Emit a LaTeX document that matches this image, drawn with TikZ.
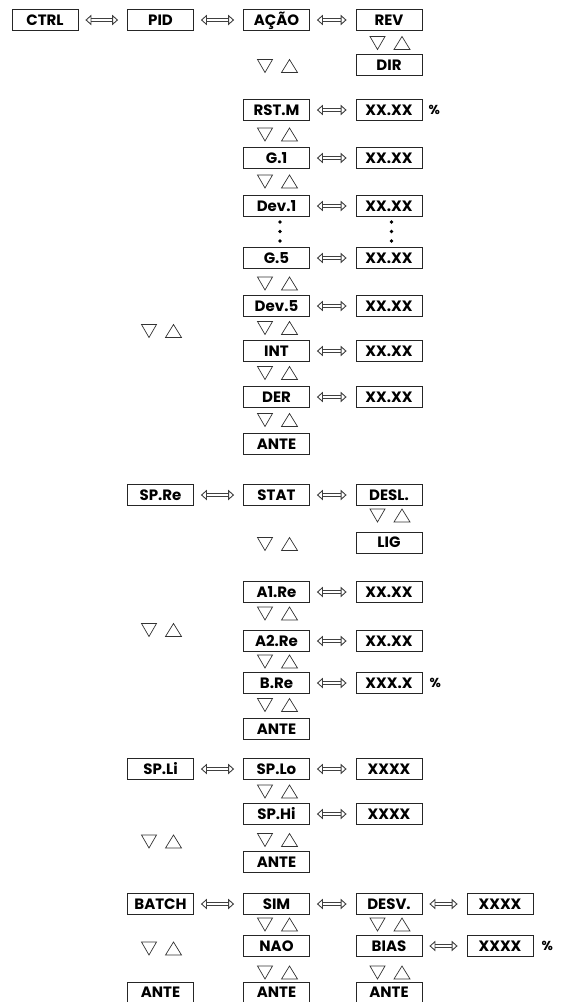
\documentclass[tikz,border=0pt]{standalone}
\usepackage{fontspec}
\setmainfont{Poppins}
\usetikzlibrary{arrows.meta}
\begin{document}
\begin{tikzpicture}[x=1pt,y=-1pt,
  box/.style={draw=black!85, line width=0.8pt, minimum width=66pt, minimum height=21pt,
    inner sep=0pt, text height=10pt, text depth=0pt,
    font=\fontsize{15}{15}\selectfont\bfseries},
  pct/.style={anchor=west, inner sep=0pt, font=\fontsize{13}{13}\selectfont\bfseries},
  lr/.style={double=white, double distance=2.6pt, line width=0.9pt, draw=black!75,
    {Triangle[open,length=6pt,width=10.5pt]}-{Triangle[open,length=6pt,width=10.5pt]},
    shorten <=7pt, shorten >=9pt},
  tri/.style={draw=black!80, line width=0.7pt, line join=miter},
  updown/.pic={\draw[tri] (-19,-6.5) -- (-4,-6.5) -- (-11.5,6.5) -- cycle;
               \draw[tri] (5,6.5) -- (21,6.5) -- (13,-6.5) -- cycle;},
  dot/.style={circle, fill=black, inner sep=0pt, minimum size=3.6pt}]
\useasboundingbox (0,0) rectangle (560,1002);
\clip (0,0) rectangle (560,1002);
\def\ca{45}\def\cb{160.5}\def\cc{276.5}\def\cd{389}\def\ce{500}
% ---- CTRL block
\node[box] (ctrl) at (\ca,20) {CTRL};
\node[box] (pid)  at (\cb,20) {PID};
\node[box] (acao) at (\cc,20) {AÇÃO};
\node[box] (rev)  at (\cd,20) {REV};
\node[box] (dir)  at (\cd,65) {DIR};
\draw[lr] (ctrl) -- (pid);
\draw[lr] (pid) -- (acao);
\draw[lr] (acao) -- (rev);
\pic at (\cd,43) {updown};
\pic at (\cc,66) {updown};
\node[box] (rstm)  at (\cc,110) {RST.M};
\node[box] (rstmv) at (\cd,110) {XX.XX};
\node[pct] (p1) at ([xshift=6pt]rstmv.east) {\%};
\draw[lr] (rstm) -- (rstmv);
\pic at (\cc,134.5) {updown};
\node[box] (g1)  at (\cc,158) {G.1};
\node[box] (g1v) at (\cd,158) {XX.XX};
\draw[lr] (g1) -- (g1v);
\pic at (\cc,181.5) {updown};
\node[box] (dev1)  at (\cc,206) {Dev.1};
\node[box] (dev1v) at (\cd,206) {XX.XX};
\draw[lr] (dev1) -- (dev1v);
\foreach \yy [count=\i] in {222,231.5,241}{
  \node[dot] (dl\i) at (280,\yy) {};
  \node[dot] (dr\i) at (391.5,\yy) {};
}
\node[box] (g5)  at (\cc,258) {G.5};
\node[box] (g5v) at (\cd,258) {XX.XX};
\draw[lr] (g5) -- (g5v);
\pic at (\cc,283.5) {updown};
\node[box] (dev5)  at (\cc,306) {Dev.5};
\node[box] (dev5v) at (\cd,306) {XX.XX};
\draw[lr] (dev5) -- (dev5v);
\pic at (\cc,328) {updown};
\pic at (\cb,331) {updown};
\node[box] (int)  at (\cc,351) {INT};
\node[box] (intv) at (\cd,351) {XX.XX};
\draw[lr] (int) -- (intv);
\pic at (\cc,373) {updown};
\node[box] (der)  at (\cc,397) {DER};
\node[box] (derv) at (\cd,397) {XX.XX};
\draw[lr] (der) -- (derv);
\pic at (\cc,420) {updown};
\node[box] (ante1) at (\cc,444) {ANTE};
% ---- SP.Re block
\node[box] (spre) at (\cb,495) {SP.Re};
\node[box] (stat) at (\cc,495) {STAT};
\node[box] (desl) at (\cd,495) {DESL.};
\draw[lr] (spre) -- (stat);
\draw[lr] (stat) -- (desl);
\pic at (\cd,515.5) {updown};
\node[box] (lig) at (\cd,542.5) {LIG};
\pic at (\cc,544) {updown};
\node[box] (a1)  at (\cc,592) {A1.Re};
\node[box] (a1v) at (\cd,592) {XX.XX};
\draw[lr] (a1) -- (a1v);
\pic at (\cc,613.5) {updown};
\node[box] (a2)  at (\cc,641) {A2.Re};
\node[box] (a2v) at (\cd,641) {XX.XX};
\draw[lr] (a2) -- (a2v);
\pic at (\cb,630) {updown};
\pic at (\cc,661.5) {updown};
\node[box] (bre)  at (\cc,683) {B.Re};
\node[box] (brev) at (\cd,683) {XXX.X};
\node[pct] (p2) at ([xshift=7pt]brev.east) {\%};
\draw[lr] (bre) -- (brev);
\pic at (\cc,705) {updown};
\node[box] (ante2) at (\cc,729) {ANTE};
% ---- SP.Li block
\node[box] (spli)  at (\cb,769) {SP.Li};
\node[box] (splo)  at (\cc,769) {SP.Lo};
\node[box] (splov) at (\cd,769) {XXXX};
\draw[lr] (spli) -- (splo);
\draw[lr] (splo) -- (splov);
\pic at (\cc,791.5) {updown};
\node[box] (sphi)  at (\cc,814) {SP.Hi};
\node[box] (sphiv) at (\cd,814) {XXXX};
\draw[lr] (sphi) -- (sphiv);
\pic at (\cc,840) {updown};
\pic at (\cb,841.5) {updown};
\node[box] (ante3) at (\cc,862) {ANTE};
% ---- BATCH block
\node[box] (batch) at (\cb,904) {BATCH};
\node[box] (sim)   at (\cc,904) {SIM};
\node[box] (desv)  at (\cd,904) {DESV.};
\node[box] (desvv) at (\ce,904) {XXXX};
\draw[lr] (batch) -- (sim);
\draw[lr] (sim) -- (desv);
\draw[lr] (desv) -- (desvv);
\pic at (\cc,924.5) {updown};
\pic at (\cd,924.5) {updown};
\node[box] (nao)   at (\cc,946) {NAO};
\node[box] (bias)  at (\cd,946) {BIAS};
\node[box] (biasv) at (\ce,946) {XXXX};
\node[pct] (p3) at ([xshift=8pt]biasv.east) {\%};
\draw[lr] (bias) -- (biasv);
\pic at (\cb,948.5) {updown};
\pic at (\cc,972.5) {updown};
\pic at (\cd,972.5) {updown};
\node[box] (ante4) at (\cb,992.5) {ANTE};
\node[box] (ante5) at (\cc,992.5) {ANTE};
\node[box] (ante6) at (\cd,992.5) {ANTE};
\end{tikzpicture}
\end{document}
